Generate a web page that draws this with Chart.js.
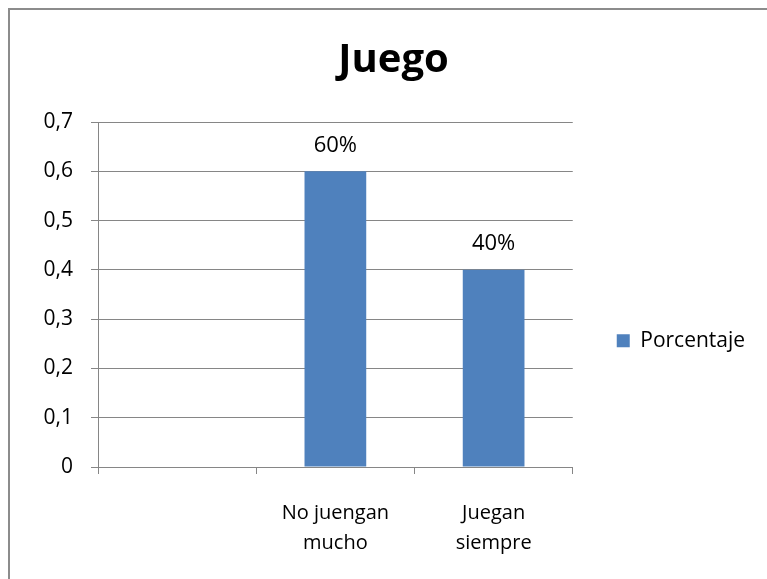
<!DOCTYPE html>
<html>
<head>
<meta charset="utf-8">
<script src="https://cdn.jsdelivr.net/npm/chart.js@4.4.1/dist/chart.umd.min.js"></script>
<style>
  html, body { margin: 0; padding: 0; background: #fff; }
  #marco { position: absolute; left: 8px; top: 8px; width: 800px; height: 600px; border: 2px solid #8c8c8c; }
  #caja { position: absolute; left: 0; top: 0; width: 767px; height: 579px; }
</style>
</head>
<body>
<div id="marco"></div>
<div id="caja"><canvas id="myChart"></canvas></div>
<script>
let categorias = ['', ['No juengan', 'mucho'], ['Juegan', 'siempre']];
let porcentajes = [null, 0.6, 0.4];
let etiquetas = [null, '60%', '40%'];
let serie = 'Porcentaje';

let fuente = '"Open Sans", Lato, sans-serif';
let gris = '#868686';

// etiquetas encima de las barras
let etiquetasBarras = {
  id: 'etiquetasBarras',
  afterDatasetsDraw(chart) {
    let ctx = chart.ctx;
    let meta = chart.getDatasetMeta(0);
    ctx.save();
    ctx.font = '22px ' + fuente;
    ctx.fillStyle = '#000';
    ctx.textAlign = 'center';
    ctx.textBaseline = 'middle';
    meta.data.forEach(function (barra, i) {
      if (etiquetas[i] == null) return;
      ctx.fillText(etiquetas[i], barra.x, barra.y - 26);
    });
    ctx.restore();
  }
};

let ctx = document.getElementById('myChart').getContext('2d');
let chart = new Chart(ctx, {
  type: 'bar',
  data: {
    labels: categorias,
    datasets: [{
      label: serie,
      data: porcentajes,
      backgroundColor: '#4F81BD',
      borderWidth: 0,
      barPercentage: 0.39,
      categoryPercentage: 1
    }]
  },
  options: {
    responsive: true,
    maintainAspectRatio: false,
    animation: false,
    layout: { padding: { left: 35, right: 15, top: 0, bottom: 0 } },
    plugins: {
      title: {
        display: true,
        text: 'Juego',
        color: '#000',
        font: { family: fuente, size: 40, weight: 'bold' },
        padding: { top: 37, bottom: 37 }
      },
      legend: {
        position: 'right',
        title: { display: true, text: ' ', padding: { top: 0, bottom: 88 } },
        labels: {
          color: '#000',
          font: { family: fuente, size: 21 },
          boxWidth: 13,
          boxHeight: 13,
          padding: 44
        }
      },
      tooltip: { enabled: false }
    },
    scales: {
      x: {
        grid: { offset: true, drawOnChartArea: false, tickLength: 7, color: gris },
        border: { color: gris },
        ticks: { color: '#000', font: { family: fuente, size: 20, lineHeight: 1.5 }, padding: 24, maxRotation: 0 },
        afterFit: function (escala) { escala.height = 112; }
      },
      y: {
        min: 0,
        max: 0.7,
        grid: { color: gris, tickLength: 7 },
        border: { color: gris },
        ticks: {
          stepSize: 0.1,
          color: '#000',
          font: { family: fuente, size: 21 },
          padding: 18,
          callback: function (v) { return v === 0 ? '0' : v.toFixed(1).replace('.', ','); }
        },
        afterFit: function (escala) { escala.width = 63; }
      }
    }
  },
  plugins: [etiquetasBarras]
});
</script>
</body>
</html>
